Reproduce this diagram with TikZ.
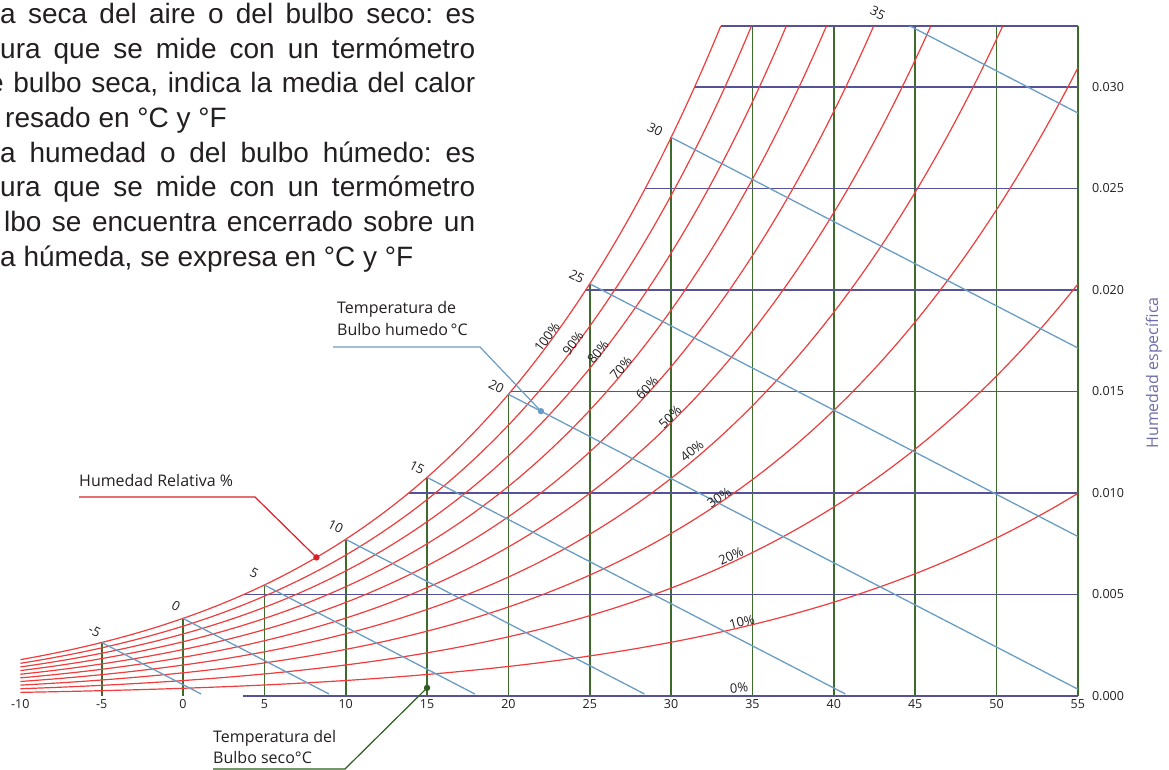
\documentclass[tikz,border=0pt]{standalone}
\usepackage{fontspec}
\setmainfont{Liberation Sans}
\newfontfamily\chartfont{Open Sans}
\frenchspacing
\definecolor{rojo}{HTML}{F03C3C}
\definecolor{rojoosc}{HTML}{D7202A}
\definecolor{verde}{HTML}{3D6B2B}
\definecolor{verdeosc}{HTML}{2D5E1F}
\definecolor{indigo}{HTML}{55529A}
\definecolor{celeste}{HTML}{6A9DC4}
\definecolor{oscuro}{HTML}{231F20}

\tikzset{
  hr/.style={rojo, line width=1.2pt},
  bs/.style={verde, line width=1.7pt},
  ws/.style={indigo, line width=1.7pt},
  bh/.style={celeste, line width=1.3pt},
  num/.style={font=\chartfont\fontsize{12.5}{14}\selectfont, text=oscuro, inner sep=0pt},
  wbnum/.style={font=\chartfont\fontsize{13}{14}\selectfont, text=oscuro, inner sep=0pt, rotate=-27},
  lbl/.style={font=\chartfont\fontsize{16}{22}\selectfont, text=oscuro, inner sep=0pt},
  parr/.style={anchor=base west, inner sep=0pt, text=oscuro, font=\fontsize{28}{34.7}\selectfont}
}

\begin{document}
\begin{tikzpicture}[x=1pt, y=1pt,
    declare function={ps(\t)=0.61094*exp(17.625*\t/(\t+243.04));
                      wr(\t,\f)=622*\f*ps(\t)/(100-\f*ps(\t));}]
    \useasboundingbox (0,0) rectangle (1169,770);

    % texto
    \node[parr] (p1) at (0,746) {\makebox[475pt][s]{a seca del aire o del bulbo seco: es}};
    \node[parr] (p2) at (0,711) {\makebox[475pt][s]{ura que se mide con un termómetro}};
    \node[parr] (p3) at (-12,677) {\makebox[487pt][s]{e bulbo seca, indica la media del calor}};
    \node[parr] (p4) at (5,642) {resado en °C y °F};
    \node[parr] (p5) at (0,607) {\makebox[475pt][s]{a humedad o del bulbo húmedo: es}};
    \node[parr] (p6) at (0,573) {\makebox[475pt][s]{ura que se mide con un termómetro}};
    \node[parr] (p7) at (4,538) {\makebox[471pt][s]{lbo se encuentra encerrado sobre un}};
    \node[parr] (p8) at (0,503) {a húmeda, se expresa en °C y °F};

    \begin{scope}[shift={(183pt,74pt)}, x=16.27pt, y=20.3pt]
        % bulbo seco
        \foreach \t in {-5,0,...,55}
            \draw[bs] (\t,0) -- (\t,{min(wr(\t,1),33)});
        % humedad especifica
        \foreach \w/\ts in {0/3.7, 5/3.7, 10/13.87, 15/20.15, 20/24.75, 25/28.41, 30/31.44, 33/33.05}
            \draw[ws] (\ts,\w) -- (55,\w);
        \begin{scope}
            \clip (-10,0) rectangle (55,33);
            % humedad relativa
            \foreach \f in {1,0.9,0.8,0.7,0.6,0.5,0.4,0.3,0.2,0.1}
                \draw[hr] plot[domain=-10:55, samples=130, smooth] (\x,{wr(\x,\f)});
            % bulbo humedo
            \foreach \t in {-5,0,...,35}{
                \pgfmathsetmacro\wsat{wr(\t,1)}
                \pgfmathsetmacro\tend{\t+(\wsat-0.1)/0.415}
                \draw[bh] (\t,\wsat) -- (\tend,0.1);
            }
        \end{scope}

        \foreach \t/\dx/\dy [count=\i] in {-5/-7/11, 0/-7/12, 5/-10/12, 10/-10/13, 15/-10/10, 20/-12/8, 25/-13/7, 30/-16/8}
            \node[wbnum] (wb\i) at ([xshift=\dx pt, yshift=\dy pt]\t,{wr(\t,1)}) {\t};
        \node[wbnum] (wb9) at (42.7,33.65) {35};

        \foreach \t [count=\i] in {-10,-5,...,55}
            \node[num] (tx\i) at ([yshift=-8pt]\t,0) {\t};
        \foreach \w/\lbl [count=\i] in {0/0.000, 5/0.005, 10/0.010, 15/0.015, 20/0.020, 25/0.025, 30/0.030}
            \node[num, anchor=west] (wy\i) at ([xshift=14pt]55,\w) {\lbl};

        \coordinate (hrdot) at (8.2,{wr(8.2,1)});
        \coordinate (bhdot) at (22,{wr(20,1)-0.83});
        \coordinate (bsdot) at (15,0.4);
    \end{scope}

    \foreach \lbl/\px/\py/\ang [count=\i] in {100/547/433/53, 90/573/427/53, 80/598/418/51, 70/621/402/49, 60/647/382/47, 50/670/353/44, 40/692/319/40, 30/719/272/34, 20/731/214/25, 10/742/148/14, 0/739/82/5}
        \node[num, font=\chartfont\fontsize{13}{14}\selectfont, rotate=\ang] (hr\i) at (\px,\py) {\lbl\%};

    \node[lbl, text=indigo!85!white, rotate=90] (ejey) at (1154,397) {Humedad específica};

    % etiquetas
    \node[lbl, anchor=base west] (hrlbl) at (79,283) {Humedad Relativa \%};
    \coordinate (hrc) at (255,273);
    \draw[rojoosc, line width=1.2pt] (hrlbl.west |- hrc) -- (hrc) -- (hrdot);
    \fill[rojoosc] (hrdot) circle (3.2pt);

    \node[lbl, anchor=north west, align=left] (bhlbl) at (337,469) {Temperatura de\\Bulbo humedo\,°C};
    \coordinate (bha) at (333,423);
    \coordinate (bhb) at (480,423);
    \draw[celeste, line width=1.2pt] (bha) -- (bhb) -- (bhdot);
    \fill[celeste] (bhdot) circle (3.2pt);

    \node[lbl, anchor=north west, align=left, font=\chartfont\fontsize{16}{21}\selectfont] (bslbl) at (213,40) {Temperatura del\\Bulbo seco°C};
    \coordinate (bsa) at (213,1);
    \coordinate (bsb) at (345,1);
    \draw[verdeosc, line width=1.2pt] (bsa) -- (bsb) -- (bsdot);
    \fill[verdeosc] (bsdot) circle (3.2pt);
\end{tikzpicture}
\end{document}
